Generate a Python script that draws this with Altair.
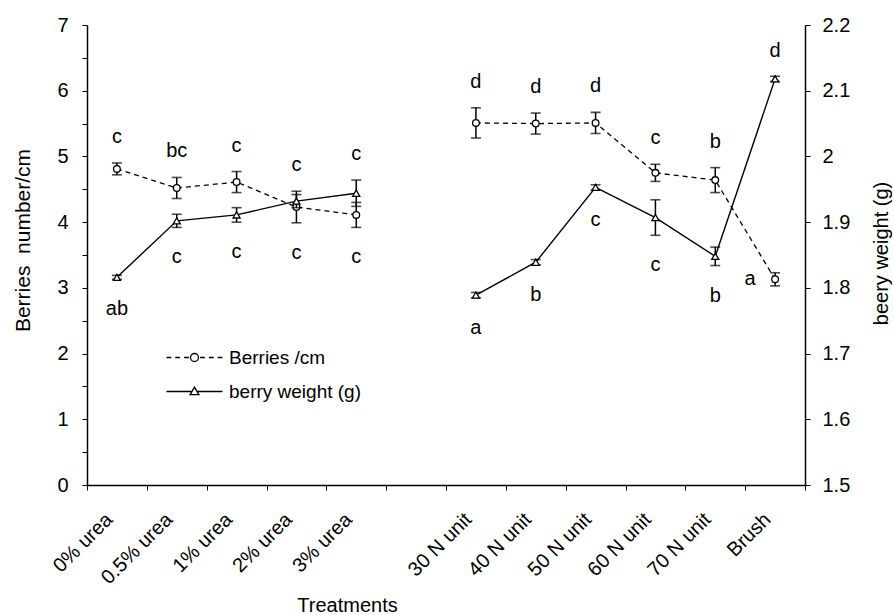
import altair as alt
import pandas as pd

# ---------------- data ----------------
categories = ["0% urea", "0.5% urea", "1% urea", "2% urea", "3% urea", " ",
              "30 N unit", "40 N unit", "50 N unit", "60 N unit", "70 N unit", "Brush"]
treatments = ["0% urea", "0.5% urea", "1% urea", "2% urea", "3% urea",
              "30 N unit", "40 N unit", "50 N unit", "60 N unit", "70 N unit", "Brush"]
groups = ["urea", "urea", "urea", "urea", "urea", "N", "N", "N", "N", "N", "N"]

berries = [4.81, 4.52, 4.61, 4.23, 4.11, 5.51, 5.50, 5.51, 4.75, 4.64, 3.13]
berries_err = [0.09, 0.16, 0.16, 0.24, 0.19, 0.23, 0.16, 0.16, 0.13, 0.19, 0.10]
berries_letters = ["c", "bc", "c", "c", "c", "d", "d", "d", "c", "b", "a"]

weight = [1.816, 1.902, 1.911, 1.932, 1.944, 1.789, 1.839, 1.953, 1.907, 1.848, 2.118]
weight_err = [0.003, 0.010, 0.011, 0.010, 0.020, 0.004, 0.004, 0.004, 0.027, 0.014, 0.004]
weight_letters = ["ab", "c", "c", "c", "c", "a", "b", "c", "c", "b", "d"]

series = ["Berries /cm", "berry weight (g)"]
left_ticks = [0, 0.5, 1, 1.5, 2, 2.5, 3, 3.5, 4, 4.5, 5, 5.5, 6, 6.5, 7]
right_ticks = [1.5, 1.6, 1.7, 1.8, 1.9, 2.0, 2.1, 2.2]

df = pd.DataFrame({
    "treatment": treatments, "group": groups,
    "berries": berries, "berries_err": berries_err, "berries_letter": berries_letters,
    "weight": weight, "weight_err": weight_err, "weight_letter": weight_letters,
})

F = "Liberation Sans"

x_enc = alt.X(
    "treatment:N", sort=categories,
    scale=alt.Scale(type="band", domain=categories, paddingInner=0, paddingOuter=0),
    axis=alt.Axis(title="Treatments", labelAngle=-45, labelAlign="right", labelBaseline="top",
                  labelFont=F, labelFontSize=20, labelColor="black", labelPadding=19,
                  labelOffset=-15, tickBand="extent", tickSize=5, tickColor="black",
                  domainColor="black", domainWidth=1.5, grid=False,
                  titleFont=F, titleFontSize=20, titleFontWeight="normal", titleColor="black",
                  titleX=260, titleY=120, titleAlign="center", titleBaseline="middle"),
)

ls = alt.Scale(domain=[0, 7], nice=False, zero=False)
rs = alt.Scale(domain=[1.5, 2.2], nice=False, zero=False)

left_axis = alt.Axis(orient="left", values=left_ticks,
                     labelExpr="datum.value % 1 == 0 ? format(datum.value, 'd') : ''",
                     labelFont=F, labelFontSize=20, labelColor="black", labelPadding=14,
                     tickSize=5, tickColor="black", domainColor="black", domainWidth=1.5, grid=False,
                     title="Berries\u00a0 number/cm", titleFont=F, titleFontSize=21,
                     titleFontWeight="normal", titleColor="black", titleAngle=270,
                     titleX=-64, titleY=215, titleAlign="center", titleBaseline="middle")
right_axis = alt.Axis(orient="right", values=right_ticks, format=".1~f",
                      labelFont=F, labelFontSize=20, labelColor="black", labelPadding=12,
                      tickSize=5, tickColor="black", domainColor="black", domainWidth=1.5, grid=False,
                      title="beery weight (g)", titleFont=F, titleFontSize=20,
                      titleFontWeight="normal", titleColor="black", titleAngle=270,
                      titleX=76, titleY=228, titleAlign="center", titleBaseline="middle")

# letters sit above / below both error bars of a treatment (the two axes map 0..7 <-> 1.5..2.2)
base = alt.Chart(df).transform_calculate(
    b_hi="datum.berries + datum.berries_err",
    b_lo="datum.berries - datum.berries_err",
    w_hi="datum.weight + datum.weight_err",
    w_lo="datum.weight - datum.weight_err",
).transform_calculate(
    b_top="max(datum.b_hi, (datum.w_hi - 1.5) * 10)",
    w_bot="min(datum.w_lo, 1.5 + datum.b_lo / 10)",
)


def yl(field):
    return alt.Y(f"{field}:Q", scale=ls, axis=left_axis)


def yr(field):
    return alt.Y(f"{field}:Q", scale=rs, axis=right_axis)


# ---------------- berries per cm (left axis) ----------------
line_b = base.mark_line(color="black", strokeWidth=1.3, strokeDash=[5, 4]).encode(
    x=x_enc, y=yl("berries"), detail="group:N")
err_b = base.mark_rule(color="black", strokeWidth=1.5).encode(x=x_enc, y=yl("b_lo"), y2="b_hi:Q")
caph_b = base.mark_tick(orient="horizontal", size=10, thickness=1.6, color="black").encode(
    x=x_enc, y=yl("b_hi"))
capl_b = base.mark_tick(orient="horizontal", size=10, thickness=1.6, color="black").encode(
    x=x_enc, y=yl("b_lo"))
pts_b = base.mark_point(shape="circle", size=45, filled=True, fill="white", stroke="black",
                        strokeWidth=1.3, opacity=1).encode(x=x_enc, y=yl("berries"))
txt_b = base.transform_filter("datum.treatment != 'Brush'").mark_text(
    dy=-26, baseline="middle", font=F, fontSize=20, color="black").encode(
    x=x_enc, y=yl("b_top"), text="berries_letter:N")
txt_b2 = base.transform_filter("datum.treatment == 'Brush'").mark_text(
    dx=-25, baseline="middle", font=F, fontSize=20, color="black").encode(
    x=x_enc, y=yl("berries"), text="berries_letter:N")

left = alt.layer(line_b, err_b, caph_b, capl_b, pts_b, txt_b, txt_b2)

# ---------------- berry weight (right axis) ----------------
line_w = base.mark_line(color="black", strokeWidth=1.4).encode(
    x=x_enc, y=yr("weight"), detail="group:N")
err_w = base.mark_rule(color="black", strokeWidth=1.5).encode(x=x_enc, y=yr("w_lo"), y2="w_hi:Q")
caph_w = base.mark_tick(orient="horizontal", size=10, thickness=1.6, color="black").encode(
    x=x_enc, y=yr("w_hi"))
capl_w = base.mark_tick(orient="horizontal", size=10, thickness=1.6, color="black").encode(
    x=x_enc, y=yr("w_lo"))
pts_w = base.mark_point(shape="triangle-up", size=50, filled=True, fill="white", stroke="black",
                        strokeWidth=1.3, opacity=1).encode(x=x_enc, y=yr("weight"))
txt_w = base.transform_filter("datum.treatment != 'Brush'").mark_text(
    dy=30, baseline="middle", font=F, fontSize=20, color="black").encode(
    x=x_enc, y=yr("w_bot"), text="weight_letter:N")
txt_w2 = base.transform_filter("datum.treatment == 'Brush'").mark_text(
    dy=-25, baseline="middle", font=F, fontSize=20, color="black").encode(
    x=x_enc, y=yr("w_hi"), text="weight_letter:N")

right = alt.layer(line_w, err_w, caph_w, capl_w, pts_w, txt_w, txt_w2)

# ---------------- legend (symbols drawn through the shape scale) ----------------
dash_circle = ("M-7,0H-5.8M-4.8,0H-3.6M-2.6,0H-1.4M1.4,0H2.6M3.6,0H4.8M5.8,0H7"
               "M-1,0A1,1,0,1,1,1,0A1,1,0,1,1,-1,0Z")
line_tri = "M-7,0H-0.64M0.64,0H7M-1.1,0.8L1.1,0.8L0,-1.1Z"

leg = alt.Chart(pd.DataFrame({"series": series})).transform_filter("false").mark_point().encode(
    shape=alt.Shape("series:N",
                    scale=alt.Scale(domain=series, range=[dash_circle, line_tri]),
                    legend=alt.Legend(title=None, orient="none", legendX=98, legendY=323,
                                      symbolSize=64, symbolStrokeColor="black",
                                      symbolFillColor="white", symbolStrokeWidth=1.3,
                                      symbolOpacity=1, labelFont=F, labelFontSize=19,
                                      labelColor="black", labelOffset=25, rowPadding=14,
                                      padding=0)))

chart = alt.layer(left, right, leg).resolve_scale(y="independent").properties(
    width=718, height=460,
    padding={"left": 87, "top": 25, "right": 88, "bottom": 130},
    autosize=alt.AutoSizeParams(type="none"),
    background="white",
).configure_view(stroke="transparent")

chart.save("out.html", embed_options={"renderer": "svg", "actions": False})
